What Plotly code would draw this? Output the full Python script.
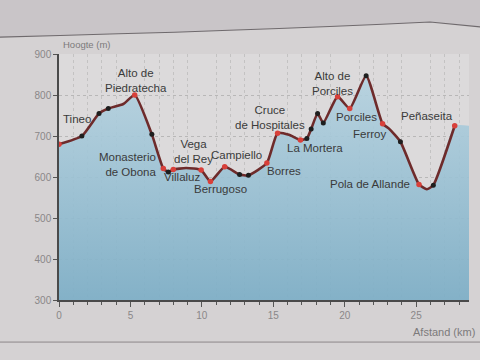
import plotly.graph_objects as go

# Profile data (distance in km, elevation in m); kind: r=red dot, b=black dot, n=no dot
dist = [0.0, 1.6, 2.8, 3.45, 4.5, 5.3, 6.5, 7.3, 7.65, 8.0, 8.9, 9.95, 10.6, 11.6,
        12.64, 13.26, 14.55, 15.3, 16.1, 16.9, 17.35, 17.65, 18.1, 18.5, 19.5, 20.35,
        21.5, 22.65, 23.1, 23.9, 25.2, 25.75, 26.2, 27.7]
elev = [680, 700, 755, 767, 778, 800, 704, 621, 612, 618, 622, 617, 589, 625,
        606, 604, 634, 707, 703, 690, 694, 717, 755, 732, 796, 767,
        847, 730, 718, 686, 582, 570, 580, 725]
kind = ["r", "b", "b", "b", "n", "r", "b", "r", "b", "r", "n", "r", "r", "r",
        "b", "b", "r", "r", "n", "r", "b", "b", "b", "b", "r", "r",
        "b", "r", "n", "b", "r", "n", "b", "r"]

x_max = 28.7

# Place labels: (text, x km, y m, xanchor, align)
labels = [
    ("Tineo", 1.24, 741, "center", "center"),
    ("Alto de<br>Piedratecha", 5.4, 835, "center", "center"),
    ("Monasterio<br>de Obona", 6.95, 630, "right", "right"),
    ("Vega<br>del Rey", 9.4, 661, "center", "center"),
    ("Villaluz", 8.61, 600, "center", "center"),
    ("Berrugoso", 11.3, 571, "center", "center"),
    ("Campiello", 12.4, 654, "center", "center"),
    ("Borres", 15.76, 614, "center", "center"),
    ("Cruce<br>de Hospitales", 14.8, 745, "center", "center"),
    ("La Mortera", 17.93, 670, "center", "center"),
    ("Alto de<br>Porciles", 19.15, 828, "center", "center"),
    ("Porciles", 20.85, 746, "center", "center"),
    ("Ferroy", 21.7, 705, "center", "center"),
    ("Pola de Allande", 21.75, 583, "center", "center"),
    ("Peñaseita", 25.75, 750, "center", "center"),
]

font = "Liberation Sans, Arial, sans-serif"

fig = go.Figure()
# filled area (continues flat to the right edge of the plot)
fig.add_trace(go.Scatter(
    x=dist + [x_max], y=elev + [elev[-1]], mode="lines",
    line=dict(width=0, shape="spline", smoothing=0.5),
    fill="tozeroy",
    fillgradient=dict(type="vertical", start=300, stop=850,
                      colorscale=[[0, "rgba(125,174,198,0.93)"], [1, "rgba(180,210,224,0.88)"]]),
    hoverinfo="skip", showlegend=False))
fig.add_trace(go.Scatter(
    x=dist, y=elev, mode="lines", line=dict(color="#6e2b2b", width=2.6, shape="spline", smoothing=0.5),
    hoverinfo="skip", showlegend=False))

rx = [d for d, k in zip(dist, kind) if k == "r"]
ry = [e for e, k in zip(elev, kind) if k == "r"]
bx = [d for d, k in zip(dist, kind) if k == "b"]
by = [e for e, k in zip(elev, kind) if k == "b"]
fig.add_trace(go.Scatter(x=rx, y=ry, mode="markers", marker=dict(color="#d8403a", size=5.5),
                         showlegend=False))
fig.add_trace(go.Scatter(x=bx, y=by, mode="markers", marker=dict(color="#1e1e1e", size=5),
                         showlegend=False))

for t, x, y, xa, al in labels:
    fig.add_annotation(x=x, y=y, text=t, showarrow=False, xanchor=xa, align=al,
                       font=dict(family=font, size=11.5, color="#3a3a3a"))

fig.add_annotation(x=0.005, y=1.0, xref="paper", yref="paper", text="Hoogte (m)", showarrow=False,
                   xanchor="left", yanchor="bottom", yshift=2,
                   font=dict(family=font, size=9.5, color="#7c7a7b"))
fig.add_annotation(x=1.02, y=-0.13, xref="paper", yref="paper", text="Afstand (km)", showarrow=False,
                   xanchor="right", yanchor="middle", font=dict(family=font, size=11, color="#7c7a7b"))

# page edge at top and bottom (photo of book page)
fig.add_shape(type="path", xref="paper", yref="paper",
              path="M -0.144,1.069 Q 0.45,1.093 0.905,1.130 L 1.03,1.11 L 1.03,1.23 L -0.144,1.23 Z",
              fillcolor="#c9c5c8", line=dict(color="rgba(0,0,0,0)", width=0), layer="below")
fig.add_shape(type="path", xref="paper", yref="paper",
              path="M -0.144,1.069 Q 0.45,1.093 0.905,1.130 L 1.03,1.11",
              line=dict(color="#6f6a6d", width=1.2))
fig.add_shape(type="line", xref="paper", yref="paper", x0=-0.144, x1=1.03, y0=-0.171, y1=-0.171,
              line=dict(color="#8c8789", width=1))

fig.update_layout(
    width=480, height=360,
    margin=dict(l=59, r=11, t=54, b=60),
    paper_bgcolor="#d5d2d3", plot_bgcolor="#dcdadb",
    font=dict(family=font),
    xaxis=dict(range=[0, x_max], dtick=5, tick0=0, ticks="outside", ticklen=5, tickcolor="#555",
               showline=True, linecolor="#4a4a4a", linewidth=1.5, showgrid=False, zeroline=False,
               tickfont=dict(size=10, color="#8a8788"),
               minor=dict(dtick=1, ticks="outside", ticklen=3, tickcolor="#555", showgrid=True,
                          gridcolor="rgba(150,150,150,0.35)", griddash="dot")),
    yaxis=dict(range=[300, 900], dtick=100, ticks="outside", ticklen=4, tickcolor="#555",
               showline=True, linecolor="#4a4a4a", linewidth=1.5, zeroline=False,
               showgrid=True, gridcolor="rgba(140,140,140,0.45)", griddash="dot",
               tickfont=dict(size=10, color="#8a8788")),
)

fig.write_html("out.html")
